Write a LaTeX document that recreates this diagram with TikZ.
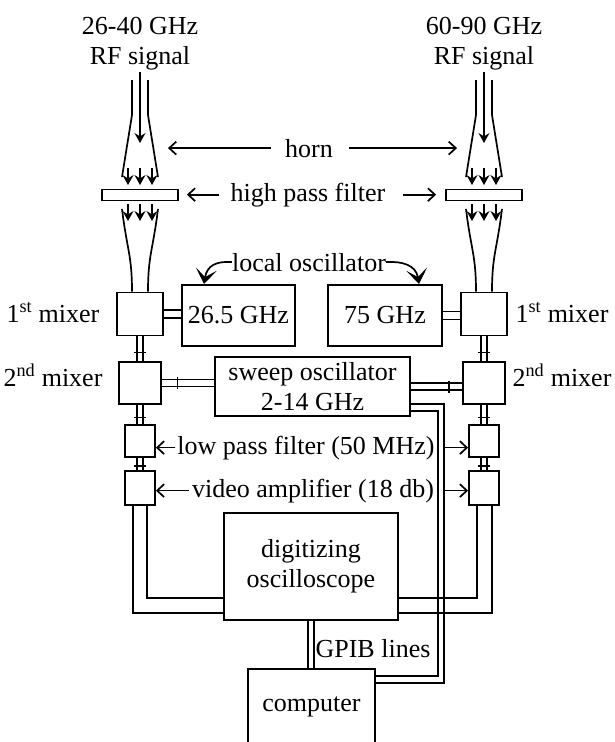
\documentclass[tikz,border=0pt]{standalone}
\usepackage{fontspec}
\setmainfont{Liberation Serif}
\usetikzlibrary{arrows.meta,calc}

\tikzset{
  blk/.style={draw, line width=1.8pt, inner sep=0pt, align=center},
  wire/.style={line width=1.7pt},
  lbl/.style={inner sep=0pt},
  tag/.style={wire, -{Straight Barb[length=7pt,width=13pt]}},
  ray/.style={wire, -{Stealth[length=10pt,width=11pt,inset=3.5pt]}},
  lo/.style={wire, -{Stealth[length=15pt,width=21pt,inset=8pt]}},
}
\newcommand{\joint}[2]{%
  \draw[wire] ([xshift=-3pt]#1.south) -- ([xshift=-3pt]#2.north)
              ([xshift=3pt]#1.south) -- ([xshift=3pt]#2.north);
  \draw[wire] ($(#1.south)!0.65!(#2.north)+(-6,0)$) -- +(12,0);}
\newcommand{\port}[3]{%
  \draw[wire] ([yshift=3.5pt]#1.east) -- ([yshift=3.5pt]#1.east -| #2.west)
              ([yshift=-3.5pt]#1.east) -- ([yshift=-3.5pt]#1.east -| #2.west);
  \draw[wire] ($(#1.east)!#3!(#1.east -| #2.west)+(0,-6)$) -- +(0,12);}

\begin{document}
\begin{tikzpicture}[x=1pt, y=-1pt, font=\fontsize{26}{30}\selectfont]
  \clip (0,0) rectangle (615,742);

  \node[lbl, align=center, anchor=north] (rfL) at (140,17) {26-40 GHz\\RF signal};
  \node[lbl, align=center, anchor=north] (rfR) at (484,17) {60-90 GHz\\RF signal};

  \node[blk, minimum width=46, minimum height=43] (m1L) at (140,314) {};
  \node[blk, minimum width=46, minimum height=43] (m1R) at (484,314) {};
  \node[blk, minimum width=42, minimum height=42] (m2L) at (140,383) {};
  \node[blk, minimum width=42, minimum height=42] (m2R) at (484,383) {};
  \node[blk, minimum width=30, minimum height=32] (lpfL) at (140,441) {};
  \node[blk, minimum width=30, minimum height=32] (lpfR) at (484,441) {};
  \node[blk, minimum width=30, minimum height=34] (ampL) at (140,488) {};
  \node[blk, minimum width=30, minimum height=34] (ampR) at (484,488) {};

  \node[blk, minimum width=113, minimum height=61] (lo1) at (238.5,315.5) {26.5 GHz};
  \node[blk, minimum width=114, minimum height=61] (lo2) at (385,315.5) {75 GHz};
  \node[blk, minimum width=195, minimum height=59] (sw) at (312.5,386.5) {sweep oscillator\\2-14 GHz};
  \node[blk, minimum width=174, minimum height=107] (osc) at (311,566.5) {digitizing\\oscilloscope};
  \node[blk, minimum width=127, minimum height=76] (cmp) at (311.5,707) {computer};

  \foreach \c/\s in {140/L,484/R}{
    \draw[wire] (\c-8,80) -- (\c-8,115) -- (\c-18,177)
                (\c+8,80) -- (\c+8,115) -- (\c+18,177);
    \draw[ray] (\c,72) -- (\c,143);
    \foreach \d in {-12,0,12} \draw[ray] (\c+\d,168) -- (\c+\d,185);
    \node[blk, minimum width=76, minimum height=11] (hpf\s) at (\c,195) {};
    \foreach \d in {-12,0,12} \draw[ray] (\c+\d,204) -- (\c+\d,221);
    \draw[wire] (\c-18,209) .. controls (\c-13,250) and (\c-8,255) .. ([xshift=-8pt]m1\s.north)
                (\c+18,209) .. controls (\c+13,250) and (\c+8,255) .. ([xshift=8pt]m1\s.north);
    \joint{m1\s}{m2\s}
    \joint{m2\s}{lpf\s}
    \joint{lpf\s}{amp\s}
  }

  \draw[wire] ([yshift=4pt]m1L.east) -- ([yshift=4pt]m1L.east -| lo1.west)
              ([yshift=-4pt]m1L.east) -- ([yshift=-4pt]m1L.east -| lo1.west);
  \draw[wire] ([yshift=4pt]lo2.east) -- ([yshift=4pt]lo2.east -| m1R.west)
              ([yshift=-4pt]lo2.east) -- ([yshift=-4pt]lo2.east -| m1R.west);
  \port{m2L}{sw}{0.3}
  \port{sw}{m2R}{0.75}

  \draw[wire] ([xshift=-7pt]ampL.south) |- ([yshift=8pt]osc.south west);
  \draw[wire] ([xshift=7pt]ampL.south) |- ([yshift=23pt]osc.south west);
  \draw[wire] ([xshift=-7pt]ampR.south) |- ([yshift=23pt]osc.south east);
  \draw[wire] ([xshift=8pt]ampR.south) |- ([yshift=8pt]osc.south east);

  \draw[wire] ([yshift=13pt]sw.south east) -- ++(33,0) |- ([yshift=-15pt]cmp.north east);
  \draw[wire] ([yshift=6pt]sw.south east) -- ++(27,0) |- ([yshift=-8pt]cmp.north east);

  \draw[wire] ([xshift=-3pt]osc.south) -- ([xshift=-3pt]osc.south |- cmp.north)
              ([xshift=3pt]osc.south) -- ([xshift=3pt]osc.south |- cmp.north);
  \node[lbl, anchor=base] (gpib) at (373,657) {GPIB lines};

  \node[lbl, anchor=base] (horn) at (309,157) {horn};
  \coordinate (hornL) at (168,148);
  \coordinate (hornR) at (457,148);
  \draw[tag] ([xshift=-14pt]horn.west) -- (hornL |- horn.west);
  \draw[tag] ([xshift=16pt]horn.east) -- (hornR |- horn.east);

  \node[lbl, anchor=base] (hpflbl) at (308,201) {high pass filter};
  \draw[tag] ([xshift=-12pt]hpflbl.west) -- ([xshift=8pt]hpfL.east |- hpflbl.west);
  \draw[tag] ([xshift=18pt]hpflbl.east) -- ([xshift=-9pt]hpfR.west |- hpflbl.east);

  \node[lbl, anchor=base] (lolbl) at (309,271) {local oscillator};
  \coordinate (loTipL) at (204,284);
  \coordinate (loTipR) at (419,284);
  \draw[lo] (lolbl.west) .. controls (217,261) and (207,265) .. (loTipL);
  \draw[lo] (lolbl.east) .. controls (402,261) and (416,265) .. (loTipR);

  \node[lbl, anchor=base] (mx1L) at (53,322) {1\textsuperscript{st} mixer};
  \node[lbl, anchor=base] (mx1R) at (562,322) {1\textsuperscript{st} mixer};
  \node[lbl, anchor=base] (mx2L) at (53,386) {2\textsuperscript{nd} mixer};
  \node[lbl, anchor=base] (mx2R) at (562,386) {2\textsuperscript{nd} mixer};

  \node[lbl, anchor=base] (lpflbl) at (306,454) {low pass filter (50 MHz)};
  \draw[tag] ([xshift=-2pt]lpflbl.west) -- (lpflbl.west -| lpfL.east);
  \draw[tag] ([xshift=8pt]lpflbl.east) -- (lpflbl.east -| lpfR.west);
  \node[lbl, anchor=base] (amplbl) at (313,497) {video amplifier (18 db)};
  \draw[tag] ([xshift=-3pt]amplbl.west) -- (amplbl.west -| ampL.east);
  \draw[tag] ([xshift=10pt]amplbl.east) -- (amplbl.east -| ampR.west);
\end{tikzpicture}
\end{document}
